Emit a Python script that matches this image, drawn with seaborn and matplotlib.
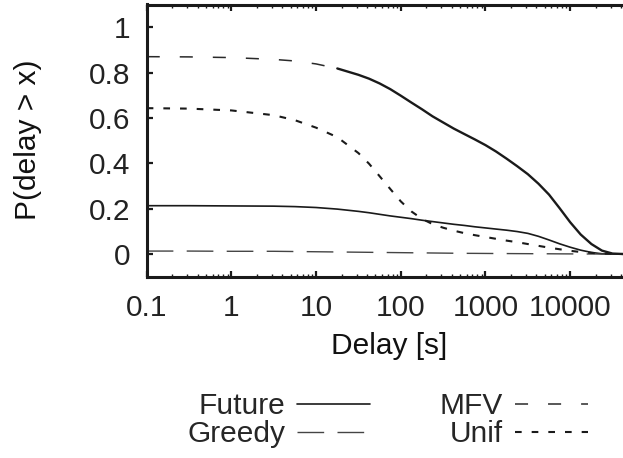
import numpy as np
import pandas as pd
import matplotlib
matplotlib.use("Agg")
import matplotlib.pyplot as plt
import seaborn as sns
from matplotlib.ticker import LogLocator, FixedLocator, FixedFormatter, NullFormatter

# ---------------- data ----------------
delays = [0.1, 0.316, 1, 3.16, 5.62, 10, 17.8, 31.6, 42.2, 56.2, 75.0, 100, 133,
          178, 237, 316, 422, 562, 750, 1000, 1330, 1780, 2370, 3160, 4220, 5620,
          7500, 10000, 13300, 17800, 23700, 31600, 42200, 100000]
future = [0.213, 0.213, 0.212, 0.211, 0.209, 0.205, 0.198, 0.188, 0.182, 0.175,
          0.168, 0.162, 0.156, 0.149, 0.143, 0.137, 0.131, 0.126, 0.120, 0.115,
          0.110, 0.105, 0.099, 0.091, 0.078, 0.062, 0.045, 0.030, 0.017, 0.007,
          0.001, 0.0, 0.0, 0.0]
greedy = [0.013, 0.013, 0.012, 0.012, 0.011, 0.010, 0.009, 0.008, 0.0075, 0.007,
          0.0065, 0.006, 0.0055, 0.005, 0.0045, 0.004, 0.0035, 0.003, 0.0028, 0.0025,
          0.0022, 0.002, 0.0017, 0.0015, 0.0012, 0.001, 0.0007, 0.0005, 0.0003, 0.0001,
          0.0, 0.0, 0.0, 0.0]
mfv = [0.870, 0.869, 0.866, 0.858, 0.851, 0.838, 0.818, 0.790, 0.773, 0.752,
       0.727, 0.698, 0.668, 0.638, 0.607, 0.580, 0.553, 0.529, 0.505, 0.480,
       0.452, 0.420, 0.387, 0.352, 0.310, 0.262, 0.202, 0.140, 0.086, 0.044,
       0.015, 0.002, 0.0, 0.0]
unif = [0.643, 0.641, 0.633, 0.612, 0.590, 0.557, 0.515, 0.445, 0.398, 0.343,
        0.287, 0.232, 0.188, 0.155, 0.132, 0.116, 0.103, 0.092, 0.083, 0.075,
        0.067, 0.059, 0.052, 0.044, 0.036, 0.028, 0.021, 0.014, 0.009, 0.005,
        0.002, 0.001, 0.0, 0.0]
mfv_dash_end = 7   # MFV drawn dashed up to this index, solid afterwards (as in the reference)

xtick_vals = [0.1, 1, 10, 100, 1000, 10000]
xtick_labels = ["0.1", "1", "10", "100", "1000", "10000"]
ytick_vals = [0, 0.2, 0.4, 0.6, 0.8, 1]
ytick_labels = ["0", "0.2", "0.4", "0.6", "0.8", "1"]

# ---------------- style ----------------
sns.set_style("ticks")
plt.rcParams["font.family"] = ["Liberation Sans", "DejaVu Sans"]
plt.rcParams["lines.scale_dashes"] = False
FS = 21.5

W, H = 623, 458
fig = plt.figure(figsize=(W / 100, H / 100), dpi=100)
left_px, top_px, bottom_px = 146.7, 4.5, 276.7
right_px = 146.7 + 6 * 84.7
ax = fig.add_axes([left_px / W, 1 - bottom_px / H,
                   (right_px - left_px) / W, (bottom_px - top_px) / H])

dark = "#1a1a1a"
sns.lineplot(x=delays, y=future, ax=ax, color=dark, linewidth=1.2,
             linestyle="-", label="Future")
sns.lineplot(x=delays, y=greedy, ax=ax, color="#444444", linewidth=1.0,
             linestyle=(0, (19.2, 9.6)), label="Greedy")
sns.lineplot(x=delays[:mfv_dash_end], y=mfv[:mfv_dash_end], ax=ax, color="#2a2a2a",
             linewidth=1.1, linestyle=(0, (9.4, 14.4)), label="MFV")
sns.lineplot(x=delays[mfv_dash_end - 1:], y=mfv[mfv_dash_end - 1:], ax=ax, color=dark,
             linewidth=1.7, linestyle="-", label="_nolegend_")
sns.lineplot(x=delays, y=unif, ax=ax, color=dark, linewidth=1.5,
             linestyle=(0, (4.8, 7.2)), label="Unif")

ax.set_xscale("log")
ax.set_xlim(0.1, 1e5)
ax.set_ylim(-0.1, 1.1)
ax.xaxis.set_major_locator(FixedLocator(xtick_vals))
ax.xaxis.set_major_formatter(FixedFormatter(xtick_labels))
ax.xaxis.set_minor_locator(LogLocator(base=10, subs=(2, 3, 4, 5, 6, 7, 8, 9), numticks=20))
ax.xaxis.set_minor_formatter(NullFormatter())
ax.yaxis.set_major_locator(FixedLocator(ytick_vals))
ax.yaxis.set_major_formatter(FixedFormatter(ytick_labels))

for sp in ax.spines.values():
    sp.set_linewidth(2.2)
    sp.set_color("#1a1a1a")
    sp.set_visible(True)
ax.tick_params(which="major", direction="in", length=4.5, width=1.6,
               top=True, right=True, labelsize=FS, colors="#1a1a1a",
               labelcolor="#222222")
ax.tick_params(axis="x", which="major", pad=12.5)
ax.tick_params(axis="y", which="major", pad=12)
ax.tick_params(which="minor", direction="in", length=2, width=1.0,
               top=True, right=True, colors="#1a1a1a")
ax.set_xlabel("")
ax.set_ylabel("")

fig.text(389 / W, 1 - 354 / H, "Delay [s]", ha="center", va="baseline",
         fontsize=FS, color="#111111")
fig.text(28 / W, 1 - 140 / H, "P(delay > x)", ha="center", va="center",
         rotation=90, fontsize=FS, color="#111111")

handles, labels = ax.get_legend_handles_labels()
if ax.get_legend() is not None:
    ax.get_legend().remove()
order = ["Future", "Greedy", "MFV", "Unif"]
hmap = dict(zip(labels, handles))
fig.legend([hmap[k] for k in order], order, loc="center",
           bbox_to_anchor=(387.5 / W, 1 - 420 / H), ncol=2, frameon=False,
           markerfirst=False, fontsize=FS, handlelength=2.44,
           handletextpad=0.4, columnspacing=2.34, labelspacing=0.0,
           borderpad=0, borderaxespad=0)

fig.savefig("out.png", dpi=100)
